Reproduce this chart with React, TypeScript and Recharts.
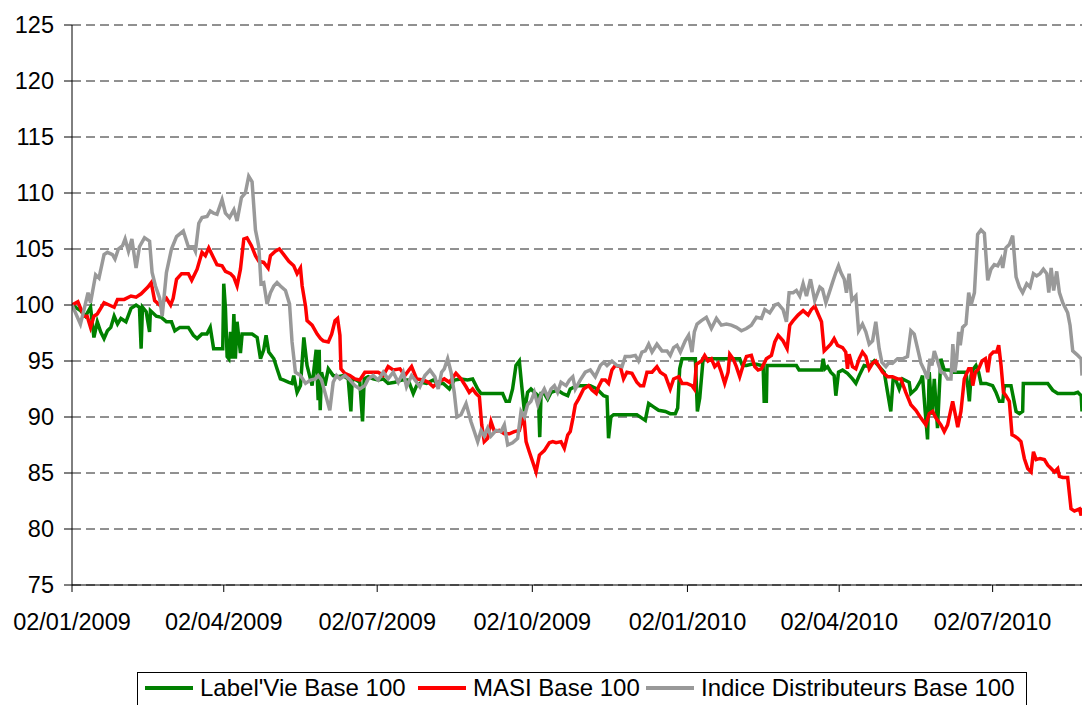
import React from 'react';
import { LineChart, Line, XAxis, YAxis, CartesianGrid, Legend } from 'recharts';

// x values are days counted from 02/01/2009
const tickDays = [0, 90, 181, 273, 365, 455, 546];
const tickLabels = ['02/01/2009', '02/04/2009', '02/07/2009', '02/10/2009', '02/01/2010', '02/04/2010', '02/07/2010'];
const yTicks = [75, 80, 85, 90, 95, 100, 105, 110, 115, 120, 125];

const labelVie: [number, number][] = [
  [0, 100], [5, 99.5], [8, 99.0], [11, 99.8], [13, 97.1], [15, 98.5], [17, 97.6], [19, 97.0], [21, 97.7], [23, 98.0],
  [25, 99.0], [27, 98.3], [29, 98.8], [32, 98.5], [35, 99.7], [38, 100.0], [40, 99.8], [41, 96.1], [41.8, 99.8], [44, 99.4],
  [46, 97.6], [46.5, 99.5], [50, 99.0], [53, 98.9], [56, 98.5], [59, 98.5], [61, 97.7], [64, 98.0], [69, 98.0], [72, 97.3],
  [74.2, 97.0], [77, 97.4], [80, 97.4], [82, 98.0], [84, 96.1], [87, 96.1], [89.4, 96.1], [90, 101.9], [91, 99.7], [92, 95.4],
  [93, 95.2], [94, 97.6], [95, 95.2], [96, 99.2], [96.9, 95.2], [97.9, 98.5], [99.9, 95.7], [100.9, 97.4], [103.8, 97.4], [106.8, 97.4],
  [109.8, 97.1], [111.8, 95.2], [113.7, 96.0], [115.1, 97.3], [116.7, 95.8], [119.7, 95.2], [121.6, 94.3], [123.6, 93.4], [125.6, 93.3], [128.6, 93.1],
  [130.5, 93.0], [131.5, 93.7], [133.5, 92.2], [135.5, 92.8], [137.5, 97.1], [139.4, 94.6], [141.4, 93.4], [142.4, 92.8], [144.8, 96.0], [146, 91.5],
  [146.6, 96.0], [147.2, 90.6], [148, 94.0], [150, 92.8], [152, 94.3], [154.9, 93.7], [157.9, 93.6], [160.8, 93.7], [163.8, 93.4], [165.4, 90.5],
  [166.2, 93.4], [168.7, 93.3], [170.7, 93.1], [172.3, 89.6], [173.3, 93.4], [175.7, 93.6], [178.6, 93.4], [181.6, 93.3], [184.6, 93.4], [187.5, 93.0],
  [191.5, 93.1], [195.5, 93.3], [199.4, 93.3], [202.4, 92.1], [204.4, 92.8], [207.3, 93.1], [210.3, 93.0], [214.2, 93.3], [217.2, 93.0], [220.2, 93.0],
  [223.8, 92.5], [226.7, 93.3], [230.7, 93.4], [234.6, 93.3], [237.6, 93.4], [240.6, 92.5], [242.6, 92.1], [246.5, 92.1], [251.5, 92.1], [255.4, 92.1],
  [257.4, 91.4], [259.4, 91.4], [261.3, 92.5], [263.3, 94.6], [265.3, 95.0], [266.7, 92.8], [268.3, 90.5], [270.2, 92.2], [272.2, 92.5], [274.2, 92.2],
  [276.6, 91.9], [277.4, 88.2], [278.2, 92.1], [280.1, 92.1], [282.1, 91.6], [284.1, 92.2], [288, 92.4], [291, 92.1], [294, 91.9], [295.5, 92.5],
  [299.5, 92.8], [303.4, 92.8], [307.4, 92.8], [311.3, 92.5], [315.3, 91.9], [317.3, 91.8], [318.2, 88.1], [319.6, 90.0], [321.2, 90.2], [325.2, 90.2],
  [330.1, 90.2], [335, 90.2], [338, 89.9], [340, 89.7], [342, 91.2], [344.9, 90.9], [347.9, 90.6], [351.9, 90.5], [354.8, 90.3], [357.8, 90.3],
  [359.2, 90.8], [360.4, 94.3], [361.8, 95.2], [364.7, 95.2], [369.7, 95.2], [370.9, 90.5], [372.3, 91.7], [374.3, 95.2], [382.2, 95.2], [390.1, 95.2],
  [396, 95.2], [397.6, 94.6], [400, 94.6], [402.9, 94.7], [405.9, 94.7], [408.9, 94.6], [409.9, 94.5], [410.5, 91.4], [411.8, 91.4], [412.2, 94.6],
  [417.8, 94.6], [423.7, 94.6], [429.6, 94.6], [431.2, 94.2], [435.6, 94.2], [441.5, 94.2], [444.5, 94.2], [445.5, 95.2], [446.5, 94.3], [448.1, 94.5],
  [450, 94.0], [452, 93.7], [453, 91.9], [454.6, 94.0], [457, 94.2], [459.9, 93.9], [462.9, 93.4], [464.9, 93.0], [466.9, 93.7], [469.8, 94.6],
  [472.8, 94.5], [475.8, 95.0], [478.7, 94.5], [481.7, 94.0], [483.7, 92.2], [485.6, 90.5], [487, 93.4], [488.6, 93.3], [490.6, 92.5], [492.6, 93.4],
  [496.5, 93.1], [497.5, 92.1], [500.5, 92.5], [503.5, 93.3], [504.4, 93.7], [506, 90.5], [507.4, 88.0], [508.4, 94.0], [510, 90.2], [511.4, 93.4],
  [513.3, 89.0], [514.3, 92.2], [515.3, 95.2], [517.3, 94.2], [520.3, 94.2], [522.3, 94.0], [530.2, 94.0], [531.2, 92.8], [532.2, 91.4], [533.2, 93.7],
  [534.6, 94.3], [536.1, 94.6], [537.7, 94.0], [539.1, 93.0], [542.1, 93.0], [546, 92.8], [548, 92.2], [550, 91.4], [552, 91.4], [553, 92.8],
  [556.9, 92.8], [559.9, 90.5], [561.9, 90.3], [563.8, 90.5], [564.2, 93.0], [569.8, 93.0], [575.7, 93.0], [578.7, 93.0], [581.6, 92.4], [584.6, 92.1],
  [589.5, 92.1], [594.5, 92.1], [596.5, 92.2], [598.5, 91.9], [599, 90.5],
];

const masi: [number, number][] = [
  [0, 100], [3.5, 100.3], [7, 99.0], [9, 99.0], [11, 98.0], [13, 99.0], [15, 99.2], [19, 100.2], [22, 100.0], [25, 99.8],
  [27, 100.5], [31, 100.5], [35, 100.8], [38, 100.7], [41, 101.0], [45, 101.6], [47, 102.0], [49, 100.4], [52, 100.0], [56, 100.6],
  [58.5, 100.0], [60, 100.6], [62, 102.3], [65, 102.8], [69, 102.8], [71, 102.2], [74.2, 103.2], [77.1, 104.7], [79.1, 104.4], [81.1, 105.1],
  [83, 104.5], [86, 103.6], [89, 103.5], [91, 103.0], [94, 102.8], [95.9, 102.5], [97.9, 101.7], [99.9, 103.2], [101.9, 105.9], [103.8, 106.0],
  [106.4, 105.3], [108.8, 104.4], [110.8, 103.9], [113.7, 103.8], [116.3, 103.3], [117.7, 104.4], [120.6, 104.8], [123, 105.0], [125.6, 104.5], [128.6, 103.9],
  [131.5, 103.5], [133.5, 102.8], [135.5, 103.3], [136.5, 101.7], [138.5, 99.9], [139.4, 98.6], [142.4, 98.2], [145.4, 97.4], [147.4, 97.0], [149, 96.8],
  [152, 96.7], [154, 97.4], [156, 98.6], [157.5, 98.8], [158.9, 97.3], [159.5, 94.3], [161.8, 93.9], [164.8, 93.7], [167.8, 93.4], [170.7, 93.3],
  [173.7, 94.0], [177.6, 94.0], [181.6, 94.0], [184.6, 93.7], [187.5, 94.5], [190.5, 94.2], [194.5, 94.3], [197.4, 93.7], [201.4, 94.5], [204.4, 93.4],
  [208.3, 93.3], [211.3, 93.1], [214.2, 92.7], [217.2, 93.1], [220.8, 93.4], [223.8, 93.1], [227.7, 93.9], [230.7, 93.4], [233.7, 92.7], [235.6, 92.2],
  [237.6, 92.5], [239.6, 92.1], [241.6, 91.8], [243, 89.3], [244.5, 87.8], [246.5, 88.1], [248.5, 89.6], [250.5, 88.7], [253.4, 88.8], [256.4, 88.5],
  [259.4, 88.5], [262.3, 88.7], [265.3, 88.8], [267.9, 90.2], [269.3, 87.8], [271.2, 86.9], [273.2, 86.0], [275.2, 85.1], [277.2, 86.6], [280.1, 87.0],
  [283.1, 87.7], [285.1, 87.8], [287.1, 87.7], [290, 87.8], [292, 87.2], [294, 88.4], [295.5, 88.7], [297.1, 89.9], [298.5, 91.1], [300.4, 91.6],
  [303.4, 92.5], [306.4, 92.8], [308.4, 92.4], [310.9, 92.1], [312.3, 92.7], [314.3, 93.3], [316.3, 93.3], [318.2, 93.0], [320.2, 94.2], [322.2, 94.6],
  [325.2, 94.5], [327.1, 93.4], [329.1, 94.0], [332.1, 93.9], [335, 93.1], [337, 92.8], [339, 92.8], [341, 94.0], [344, 94.0], [346.9, 94.5],
  [348.9, 94.0], [351.9, 93.7], [354.8, 92.5], [356.8, 93.4], [359.8, 93.6], [361.8, 93.0], [364.7, 93.0], [367.7, 92.8], [369.1, 92.5], [370.3, 94.7],
  [373.3, 95.0], [375.2, 95.5], [377.2, 95.0], [379.2, 95.2], [381.2, 94.5], [383.2, 94.8], [385.1, 94.0], [387.1, 93.0], [389.1, 94.0], [390.1, 95.6],
  [392.1, 95.2], [394, 94.5], [396, 93.6], [398, 94.6], [400, 95.4], [402.9, 95.5], [404.9, 94.5], [406.9, 94.2], [408.9, 94.3], [411.8, 95.2],
  [414.8, 95.5], [416.8, 96.7], [418.8, 97.3], [421.7, 96.8], [424.1, 96.1], [425.7, 98.2], [427.7, 98.6], [430.6, 99.1], [433.6, 99.5], [436.6, 99.1],
  [438.5, 99.6], [440.5, 99.9], [442.5, 99.2], [444.5, 98.5], [446.1, 95.9], [448.1, 96.2], [450, 96.5], [452, 97.0], [454, 96.4], [457, 96.2],
  [458.9, 95.8], [459.9, 94.3], [460.9, 95.6], [462.9, 94.5], [464.9, 94.3], [466.9, 95.2], [468.8, 95.8], [470.8, 95.4], [472.8, 94.3], [474.8, 94.8],
  [476.7, 95.0], [478.7, 94.5], [480.7, 94.0], [483.7, 93.6], [486.6, 93.6], [489.6, 93.4], [491.6, 93.4], [494.5, 92.2], [497.5, 91.1], [500.5, 90.6],
  [503.5, 89.9], [506.4, 89.3], [508.4, 90.3], [510.4, 90.5], [512.4, 89.9], [515.3, 89.3], [517.3, 88.7], [519.3, 89.3], [521, 90.5], [522.3, 91.4],
  [524.3, 89.9], [525.3, 89.1], [527.2, 90.5], [529.2, 93.4], [531.8, 94.3], [533.2, 94.3], [534.2, 92.8], [535.8, 94.0], [537.7, 94.3], [539.7, 95.0],
  [541.7, 95.2], [543.1, 94.0], [544.5, 95.5], [546.4, 95.8], [548.4, 95.8], [549.6, 96.4], [551, 94.6], [552.4, 92.2], [553.9, 91.9], [555.9, 91.4],
  [557.5, 88.4], [558.9, 88.3], [560.9, 88.1], [562.8, 87.8], [564.8, 86.3], [566.8, 85.4], [568.8, 85.1], [570.2, 86.9], [571.8, 86.2], [574.1, 86.3],
  [576.7, 86.2], [578.7, 85.7], [580.7, 85.4], [582.6, 85.1], [584.6, 85.4], [585.6, 84.7], [587.6, 84.6], [590.5, 84.6], [592.5, 81.8], [594.5, 81.6],
  [597.5, 81.8], [598.5, 81.2], [599, 81.9],
];

const distributeurs: [number, number][] = [
  [0, 100], [5, 98.3], [7, 99.5], [9.5, 101.1], [11, 100.2], [14, 102.7], [16, 102.4], [19, 104.5], [21, 104.7], [24, 104.5],
  [25.5, 104.1], [27.5, 105.0], [30, 105.3], [31.5, 105.9], [33.5, 104.8], [35.5, 105.9], [38, 103.3], [40, 105.2], [43, 106.0], [46, 105.7],
  [47.5, 102.9], [49.5, 101.7], [52, 100.6], [53.5, 99.0], [56, 102.9], [59, 105.0], [62, 106.1], [66, 106.6], [69, 105.2], [72, 105.2],
  [73.2, 104.8], [75.2, 107.3], [77.1, 107.8], [80.1, 107.9], [82, 108.4], [84, 108.2], [86, 108.1], [89, 109.4], [91, 108.2], [93.4, 107.8],
  [96, 108.5], [97.9, 107.5], [100.5, 109.6], [102.8, 110.0], [104.8, 111.5], [106.8, 111.0], [108.8, 106.7], [110.8, 105.2], [112.1, 101.9], [113.7, 102.0],
  [115.7, 100.1], [117.7, 101.1], [119.7, 101.7], [121.6, 102.0], [123.6, 101.7], [126.6, 101.3], [129, 100.1], [130.5, 96.7], [132.5, 94.0], [135.5, 93.7],
  [138.5, 93.0], [141.4, 93.3], [144.4, 93.4], [146, 93.7], [148, 93.3], [150, 92.2], [152.9, 90.6], [154.9, 93.1], [156.9, 93.7], [158.9, 93.4],
  [161.8, 93.7], [164.8, 93.3], [167.8, 92.8], [170.7, 92.5], [173.7, 92.8], [175.7, 93.4], [178.6, 93.7], [181.6, 93.3], [184.6, 94.0], [187.5, 93.4],
  [190.5, 94.0], [193.5, 93.1], [196.4, 94.0], [198.4, 92.7], [201.4, 93.7], [204.4, 93.1], [206.3, 92.7], [209.3, 93.7], [212.3, 94.2], [215.2, 93.6],
  [217.2, 92.5], [219.2, 94.0], [220.8, 94.3], [222.8, 95.2], [224.8, 94.0], [226.7, 92.2], [228.3, 90.0], [230.7, 90.2], [233.7, 91.2], [236.6, 89.6],
  [238.6, 88.7], [240.6, 87.8], [242.6, 88.8], [244.5, 88.3], [246.5, 89.0], [248.5, 88.3], [251.5, 88.8], [254.4, 88.7], [256.4, 89.3], [258.4, 87.5],
  [261.3, 87.7], [264.3, 88.1], [266.3, 90.5], [268.3, 90.0], [270.2, 91.1], [272.2, 91.4], [274.2, 92.2], [276.2, 91.1], [278.2, 92.0], [280.1, 92.5],
  [282.1, 91.8], [284.1, 92.5], [286.1, 92.8], [288, 92.2], [290, 93.1], [293, 92.8], [295, 93.3], [297, 93.6], [298.5, 92.5], [301.4, 93.3],
  [304.4, 94.0], [307.4, 94.2], [310.3, 93.6], [313.3, 94.6], [315.3, 94.9], [317.3, 94.6], [320.2, 95.0], [323.2, 94.6], [326.2, 94.5], [328.1, 95.4],
  [331.1, 95.4], [334.1, 95.5], [336, 95.0], [338, 95.8], [340, 95.9], [342, 96.5], [344, 95.8], [346.9, 96.5], [349.9, 95.9], [352.9, 95.9],
  [354.8, 95.5], [356.8, 96.2], [358.8, 96.4], [360.8, 95.8], [363.7, 96.8], [365.7, 97.3], [367.7, 95.8], [369.1, 97.6], [370.7, 98.3], [373.3, 98.6],
  [376.2, 98.9], [379.2, 97.9], [382.2, 98.8], [385.1, 98.2], [388.1, 98.3], [391, 98.2], [394, 98.0], [397, 97.7], [400, 97.9], [402.9, 98.2],
  [405.9, 98.9], [408.9, 98.8], [410.9, 99.6], [413.8, 99.3], [416.8, 100.0], [418.8, 100.1], [421.7, 99.6], [423.7, 98.5], [425.3, 101.1], [427.7, 101.1],
  [429.6, 101.3], [431.6, 100.8], [433.6, 101.9], [435.6, 100.8], [438, 102.3], [440.5, 100.4], [443.5, 101.6], [445.1, 101.4], [447.1, 100.2], [449.1, 101.1],
  [451, 102.0], [453, 102.9], [454.6, 103.5], [456, 102.9], [458, 102.3], [459.3, 101.1], [460.9, 102.8], [462.5, 100.4], [464.9, 100.8], [466.5, 97.7],
  [468.8, 98.3], [470.8, 97.6], [472.8, 96.5], [474.8, 96.8], [476.7, 98.5], [478.7, 96.1], [480.3, 94.9], [482.7, 94.5], [484.7, 94.9], [486.6, 94.8],
  [489.6, 95.2], [492.6, 95.2], [495.5, 95.4], [497.5, 97.7], [499.5, 97.4], [501.5, 96.1], [503.5, 94.8], [505.4, 94.2], [507.4, 93.4], [508.8, 95.2],
  [510, 94.6], [511.4, 95.9], [513.3, 95.0], [515.3, 94.0], [517.3, 93.9], [519.3, 93.4], [521.3, 93.4], [522.4, 96.5], [523.6, 94.0], [524.7, 95.2],
  [525.9, 97.6], [526.8, 96.4], [528.2, 98.0], [530.2, 98.3], [531.8, 101.1], [533.2, 100.0], [535.2, 101.1], [537.1, 106.3], [539.1, 106.7], [541.1, 106.4],
  [543.1, 102.2], [545, 103.2], [547, 103.6], [549, 103.5], [551, 104.1], [552, 103.3], [553.9, 105.1], [555.9, 105.4], [557.9, 106.2], [559.9, 102.5],
  [561.9, 101.6], [563.8, 101.1], [566.2, 101.9], [568.2, 101.6], [570.2, 102.8], [572.1, 102.6], [574.1, 102.8], [576.1, 103.2], [578.1, 102.8], [579.3, 101.1],
  [580.7, 103.3], [582.2, 101.3], [584, 103.0], [585.6, 101.1], [587.6, 100.2], [590.5, 99.3], [591.9, 98.2], [593.5, 95.9], [596.5, 95.5], [598.5, 95.2],
  [599, 93.7],
];

const seriesNames = ["Label'Vie Base 100", 'MASI Base 100', 'Indice Distributeurs Base 100'];
const seriesColors = ['#008000', '#ff0000', '#999999'];

const toRows = (pts: [number, number][]) => pts.map(([d, v]) => ({ d, v }));

const FONT = '"Liberation Sans", Arial, sans-serif';

const legendSampleLeft = [7, 280, 508];
const legendTextLeft = [62, 335, 563];

function LegendBox() {
  return (
    <div style={{ position: 'relative', width: 890, height: 33 }}>
      <div
        style={{
          position: 'absolute', left: 0, top: 0, width: 890, height: 40, boxSizing: 'border-box',
          border: '1px solid #000', background: '#fff', fontFamily: FONT, fontSize: 24, color: '#000',
        }}
      >
        {seriesNames.map((name, i) => (
          <React.Fragment key={name}>
            <div style={{ position: 'absolute', left: legendSampleLeft[i], top: 13, width: 48, height: 4, background: seriesColors[i] }} />
            <div style={{ position: 'absolute', left: legendTextLeft[i], top: 0, lineHeight: '29px', whiteSpace: 'nowrap' }}>{name}</div>
          </React.Fragment>
        ))}
      </div>
    </div>
  );
}

export default function App() {
  const tickStyle = { fontSize: 23.5, fill: '#000', fontFamily: FONT };
  return (
    <div style={{ position: 'absolute', left: 0, top: 0, width: 1082, height: 705, overflow: 'hidden', background: '#fff' }}>
      <LineChart width={1082} height={705} margin={{ top: 25, right: 0, bottom: 0, left: 0 }}>
        <CartesianGrid horizontal vertical={false} stroke="#222" strokeDasharray="9 5" />
        <XAxis
          dataKey="d" type="number" domain={[0, 599]} allowDataOverflow ticks={tickDays} interval={0}
          tickFormatter={(v: number) => tickLabels[tickDays.indexOf(v)] ?? ''}
          height={87} tickSize={7} tickMargin={21} tick={tickStyle}
          axisLine={{ stroke: '#000' }} tickLine={{ stroke: '#000' }}
        />
        <YAxis
          type="number" domain={[75, 125]} ticks={yTicks} interval={0} width={72}
          tickSize={8} tickMargin={10} tick={tickStyle}
          axisLine={{ stroke: '#000' }} tickLine={{ stroke: '#000' }}
        />
        <Legend
          verticalAlign="bottom" height={33}
          wrapperStyle={{ left: 137, top: 672, width: 890, height: 33 }}
          content={() => <LegendBox />}
        />
        <Line data={toRows(labelVie)} dataKey="v" name={seriesNames[0]} stroke={seriesColors[0]} strokeWidth={3.5} dot={false} type="linear" isAnimationActive={false} />
        <Line data={toRows(masi)} dataKey="v" name={seriesNames[1]} stroke={seriesColors[1]} strokeWidth={3.5} dot={false} type="linear" isAnimationActive={false} />
        <Line data={toRows(distributeurs)} dataKey="v" name={seriesNames[2]} stroke={seriesColors[2]} strokeWidth={3.5} dot={false} type="linear" isAnimationActive={false} />
      </LineChart>
    </div>
  );
}
